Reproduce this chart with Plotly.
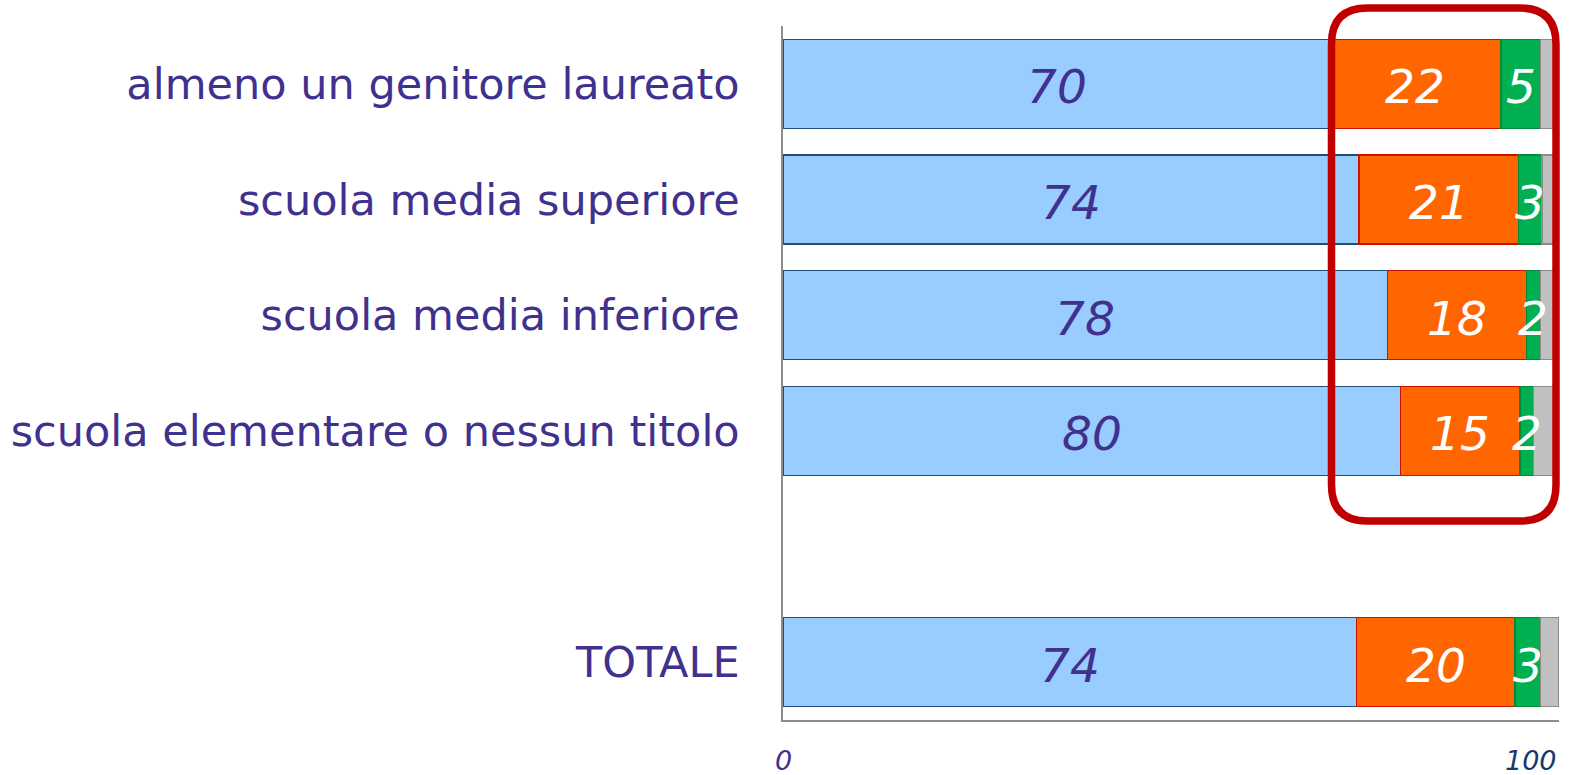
import plotly.graph_objects as go

# ---- data ----
categories = ["almeno un genitore laureato", "scuola media superiore",
              "scuola media inferiore", "scuola elementare o nessun titolo", "TOTALE"]
series_names = ["sì", "no", "altro", "n.r."]
v_blue = [70.5, 74.2, 77.9, 79.6, 73.9]
v_orange = [22.0, 20.6, 17.9, 15.4, 20.4]
v_green = [5.1, 3.0, 1.8, 1.7, 3.3]
v_gray = [2.4, 2.2, 2.4, 3.3, 2.4]
tick_values = [0, 100]
tick_labels = ["0", "100"]

# axis category order (with an empty spacer row before TOTALE)
spacer = " "
cat_order = categories[:4] + [spacer] + categories[4:]

colors = ["#99CCFF", "#FF6600", "#00B050", "#C0C0C0"]
edges = ["#1F4E79", "#CC1100", "#008A3A", "#8C8C8C"]
label_colors = ["#41318F", "#FFFFFF", "#FFFFFF", None]
series = [v_blue, v_orange, v_green, v_gray]

W, H = 1574, 775
L, R, T, B = 783, W - 1559, 26, H - 720

fig = go.Figure()
for name, vals, c, e in zip(series_names, series, colors, edges):
    fig.add_trace(go.Bar(
        y=categories, x=vals, orientation="h", name=name,
        marker=dict(color=c, line=dict(color=e, width=1.5)),
        hoverinfo="x+y",
    ))

# value labels centred on each segment
cum = [0.0] * len(categories)
for vals, lc in zip(series, label_colors):
    if lc is not None:
        for cat, c0, v in zip(categories, cum, vals):
            fig.add_annotation(
                x=c0 + v / 2, y=cat, xref="x", yref="y", text=f"{v:.0f}",
                showarrow=False, xanchor="center", yanchor="middle", yshift=-3,
                font=dict(family="DejaVu Sans", size=47, color=lc, style="italic"))
    cum = [c0 + v for c0, v in zip(cum, vals)]

fig.update_layout(
    width=W, height=H,
    margin=dict(l=L, r=R, t=T, b=B, pad=0, autoexpand=False),
    barmode="stack", bargap=0.23,
    showlegend=False,
    plot_bgcolor="white", paper_bgcolor="white",
    font=dict(family="DejaVu Sans"),
)
fig.update_xaxes(range=[0, 100], showgrid=False, zeroline=False, automargin=False,
                 showline=True, linecolor="#8C8C8C", linewidth=1.5,
                 showticklabels=False, ticks="", fixedrange=True)
fig.update_yaxes(type="category", categoryorder="array", categoryarray=cat_order,
                 range=[len(cat_order) - 0.5, -0.5], automargin=False,
                 showgrid=False, zeroline=False,
                 showline=True, linecolor="#8C8C8C", linewidth=1.5,
                 ticks="", ticklabelstandoff=33,
                 tickfont=dict(family="DejaVu Sans", size=43, color="#41318F"),
                 fixedrange=True)

# x tick labels (italic, below axis)
tick_colors = ["#41318F", "#163A6B"]
anchors = ["center", "right"]
for tv, tl, tc, an in zip(tick_values, tick_labels, tick_colors, anchors):
    fig.add_annotation(x=tv, y=0, xref="x", yref="paper", text=tl, showarrow=False,
                       xanchor=an, yanchor="middle", yshift=-40,
                       font=dict(family="DejaVu Sans", size=27, color=tc, style="italic"))

# red rounded highlight box (pixel geometry -> paper coords)
pw, ph = W - L - R, H - T - B
def px(xp):
    return (xp - L) / pw
def py(yp):
    return (H - B - yp) / ph
x0, x1, y0, y1, r = 1331.5, 1556, 8, 521, 36
path = (f"M {px(x0 + r)},{py(y0)} L {px(x1 - r)},{py(y0)} "
        f"Q {px(x1)},{py(y0)} {px(x1)},{py(y0 + r)} "
        f"L {px(x1)},{py(y1 - r)} Q {px(x1)},{py(y1)} {px(x1 - r)},{py(y1)} "
        f"L {px(x0 + r)},{py(y1)} Q {px(x0)},{py(y1)} {px(x0)},{py(y1 - r)} "
        f"L {px(x0)},{py(y0 + r)} Q {px(x0)},{py(y0)} {px(x0 + r)},{py(y0)} Z")
fig.add_shape(type="path", path=path, xref="paper", yref="paper",
              line=dict(color="#C00000", width=7.5), layer="above")

fig.write_html("out.html", config={"displayModeBar": False},
               post_script="document.body.style.margin='0';document.body.style.overflow='hidden';")
